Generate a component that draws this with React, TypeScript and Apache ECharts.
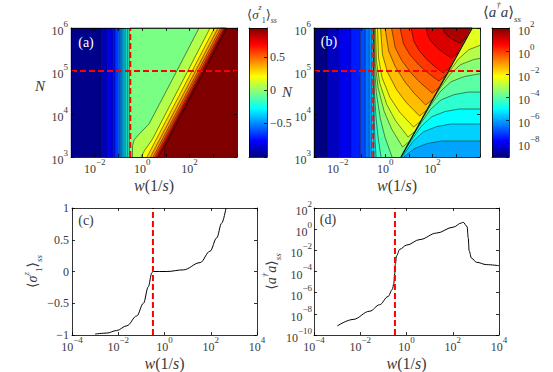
import React, { useEffect, useRef } from 'react';
import * as echarts from 'echarts';

// ---------------- data (log10 units) ----------------
const W_CRIT = -0.5; // log10 of the critical w (vertical red dashes)
const N_CUT = 5; // log10 N of the horizontal cut (red dashes)

// Panel (a): <sigma_1^z>_ss map
const aColorRange = [-1.02, 0.94];
const aVerticalBounds = [-3, -1.73, -1.47, -1.27, -1.14, -1.03, -0.93, -0.85, -0.76, -0.69, -0.62, -0.55, -0.5];
const aVerticalLevels = [-1, -0.92, -0.83, -0.75, -0.67, -0.58, -0.5, -0.42, -0.33, -0.25, -0.17, -0.08];
const aDiagLevels = [-0.05, 0.06, 0.2, 0.3, 0.4, 0.5, 0.6, 0.7, 0.8, 0.89, 0.94];
const aDiagContours = [
  [[2.4, 6], [1.46, 5], [0.29, 3.77], [-0.13, 3.53], [-0.34, 3.4], [-0.405, 3.26], [-0.41, 3]],
  [[2.865, 6], [0.42, 3.4], [0.1, 3.15], [-0.05, 3]],
  [[3.055, 6], [0.205, 3]],
  [[3.2, 6], [0.35, 3]],
  [[3.31, 6], [0.46, 3]],
  [[3.39, 6], [0.54, 3]],
  [[3.456, 6], [0.606, 3]],
  [[3.51, 6], [0.66, 3]],
  [[3.55, 6], [0.7, 3]],
  [[3.58, 6], [0.95, 3.23], [0.95, 3]],
];

// Panel (b): <a^dagger a>_ss map (log10 values)
const bColorRange = [-9.2, 2];
const bVerticalBounds = [-3, -2.45, -1.92, -1.43, -1.05, -0.84, -0.67, -0.58, -0.5];
const bVerticalLevels = [-9.14, -8.5, -8, -7.5, -7, -6.5, -6, -5.5];
const bRidge = [[0.67, 3], [3.67, 6]];
const bInnerBase = -5.5;
const bInnerLevels = [-5, -4.5, -4, -3.5, -3, -2.5, -2, -1.5, -1, -0.5, 0, 0.5, 1, 1.5];
const bInnerContours = [
  [[-0.5, 6], [-0.5, 4.5], [-0.49, 3.6], [-0.47, 3]],
  [[-0.5, 6], [-0.486, 4.5], [-0.46, 3.9], [-0.431, 3.45], [-0.384, 3]],
  [[-0.489, 6], [-0.481, 5.1], [-0.45, 4.5], [-0.381, 3.9], [-0.295, 3.45], [-0.173, 3]],
  [[-0.468, 6], [-0.447, 5.1], [-0.373, 4.5], [-0.206, 3.9], [-0.002, 3.45], [0.291, 3]],
  [[-0.447, 6], [-0.415, 5.17], [-0.299, 4.616], [-0.042, 4.063], [0.278, 3.646], [0.734, 3.232], [1.042, 3.372]],
  [[-0.405, 6], [-0.368, 5.239], [-0.234, 4.732], [0.065, 4.225], [0.437, 3.845], [0.966, 3.465], [1.274, 3.605]],
  [[-0.321, 6], [-0.28, 5.309], [-0.131, 4.849], [0.2, 4.388], [0.612, 4.043], [1.198, 3.698], [1.506, 3.837]],
  [[-0.194, 6], [-0.113, 5.386], [0.097, 4.977], [0.481, 4.567], [0.903, 4.26], [1.452, 3.953], [1.764, 4.093]],
  [[-0.004, 6], [0.15, 5.463], [0.425, 5.105], [0.836, 4.746], [1.232, 4.478], [1.709, 4.209], [2.017, 4.349]],
  [[0.27, 6], [0.425, 5.546], [0.7, 5.244], [1.112, 4.942], [1.51, 4.715], [1.987, 4.488], [2.295, 4.628]],
  [[0.629, 6], [0.777, 5.63], [1.038, 5.384], [1.43, 5.137], [1.81, 4.952], [2.266, 4.767], [2.574, 4.907]],
  [[1.093, 6], [1.215, 5.686], [1.433, 5.477], [1.76, 5.267], [2.076, 5.11], [2.452, 4.953], [2.76, 5.093]],
  [[1.726, 6], [1.823, 5.791], [1.996, 5.651], [2.253, 5.512], [2.502, 5.407], [2.802, 5.302], [3.108, 5.442]],
  [[2.443, 6], [2.506, 5.895], [2.62, 5.826], [2.789, 5.756], [2.954, 5.703], [3.148, 5.651], [3.456, 5.791]],
];
const bOuterBase = -6;
const bOuterLevels = [-5.5, -5, -4.5, -4, -3.5, -3, -2.5];
const bOuterContours = [
  [[0.79, 3], [1.222, 3.192], [1.772, 3.312], [2.372, 3.372], [4, 3.372]],
  [[0.71, 3], [1.177, 3.367], [1.617, 3.587], [2.167, 3.707], [2.767, 3.767], [4, 3.767]],
  [[0.786, 3.116], [1.076, 3.366], [1.526, 3.716], [1.966, 3.936], [2.516, 4.056], [3.116, 4.116], [4, 4.116]],
  [[1.18, 3.51], [1.47, 3.76], [1.92, 4.11], [2.36, 4.33], [2.91, 4.45], [3.51, 4.51], [4, 4.51]],
  [[1.6, 3.93], [1.89, 4.18], [2.34, 4.53], [2.78, 4.75], [3.33, 4.87], [3.93, 4.93], [4, 4.93]],
  [[1.996, 4.326], [2.286, 4.576], [2.736, 4.926], [3.176, 5.146], [3.726, 5.266], [4, 5.293]],
  [[2.344, 4.674], [2.634, 4.924], [3.084, 5.274], [3.524, 5.494], [4, 5.598]],
];

// Panel (c): <sigma_1^z>_ss vs log10 w at N = 1e5
const cLogW = [-3.0, -2.5, -2.07, -1.63, -1.2, -0.91, -0.7, -0.55, -0.51, 0.1, 0.82, 1.54, 1.97, 2.26, 2.47, 2.66];
const cSigma = [-0.985, -0.97, -0.93, -0.855, -0.7, -0.5, -0.24, -0.025, 0.0, 0.0, 0.026, 0.14, 0.32, 0.53, 0.76, 1.0];

// Panel (d): log10 <a^dagger a>_ss vs log10 w at N = 1e5
const dLogW = [-2.99, -2.31, -1.59, -1.16, -0.8, -0.61, -0.55, -0.51, -0.48, -0.43, -0.29, 0.0, 0.58, 1.3, 2.02, 2.38, 2.45, 2.62, 2.67, 2.71, 2.81, 3.03, 3.46, 4.0];
const dLogN = [-9.14, -8.53, -7.75, -7.14, -6.37, -5.69, -5.14, -4.2, -3.29, -2.52, -1.9, -1.51, -0.98, -0.37, 0.19, 0.59, 0.65, 0.25, -0.83, -2.06, -2.74, -3.13, -3.35, -3.45];

// ---------------- styling helpers ----------------
const FONT = "'Liberation Serif', 'DejaVu Serif', serif";
const INK = '#3a3a3a';

function jet(t: number): string {
  const c = (v: number) => Math.max(0, Math.min(1, v));
  const tt = c(t);
  const r = c(Math.min(4 * tt - 1.5, -4 * tt + 4.5));
  const g = c(Math.min(4 * tt - 0.5, -4 * tt + 3.5));
  const b = c(Math.min(4 * tt + 0.5, -4 * tt + 2.5));
  return `rgb(${Math.round(r * 255)},${Math.round(g * 255)},${Math.round(b * 255)})`;
}
const JET_STOPS = [
  { offset: 0, color: '#000080' },
  { offset: 0.125, color: '#0000ff' },
  { offset: 0.375, color: '#00ffff' },
  { offset: 0.625, color: '#ffff00' },
  { offset: 0.875, color: '#ff0000' },
  { offset: 1, color: '#800000' },
];

const powRich = {
  b: { fontFamily: FONT, fontSize: 12, color: INK, lineHeight: 18, verticalAlign: 'bottom' },
  s: { fontFamily: FONT, fontSize: 9, color: INK, verticalAlign: 'top' },
};
const minus = (v: number) => (v < 0 ? '\u2212' + Math.abs(v) : String(v));
const powLabel = (only?: (v: number) => boolean) => (v: number) => {
  if (Math.abs(v - Math.round(v)) > 1e-6) return '';
  const k = Math.round(v);
  if (only && !only(k)) return '';
  return `{b|10}{s|${minus(k)}}`;
};

const mathRich = (size: number) => ({
  r: { fontFamily: FONT, fontSize: size, color: INK, lineHeight: size + 8, verticalAlign: 'middle' },
  i: { fontFamily: FONT, fontSize: size, fontStyle: 'italic', color: INK, verticalAlign: 'middle' },
  sup: { fontFamily: FONT, fontSize: Math.round(size * 0.62), fontStyle: 'italic', color: INK, verticalAlign: 'top' },
  sub: { fontFamily: FONT, fontSize: Math.round(size * 0.62), color: INK, verticalAlign: 'bottom' },
  ss: { fontFamily: FONT, fontSize: Math.round(size * 0.62), fontStyle: 'italic', color: INK, verticalAlign: 'bottom' },
});
const X_NAME = '{i|w}{r|(1/}{i|s}{r|)}';
const SIGMA_NAME = '{r|\u27E8}{i|\u03C3}{sup|z}{sub|1}{r|\u27E9}{ss|ss}';
const N_NAME = '{r|\u27E8}{i|a}{sup|\u2020}{i|a}{r|\u27E9}{ss|ss}';

type Poly = { pts: number[][]; color: string };

function buildOption() {
  const aCol = (v: number) => jet((v - aColorRange[0]) / (aColorRange[1] - aColorRange[0]));
  const bCol = (v: number) => jet((v - bColorRange[0]) / (bColorRange[1] - bColorRange[0]));

  // ---- polygons of panel (a)
  const aPolys: Poly[] = [];
  aVerticalLevels.forEach((lv, i) => {
    const x0 = aVerticalBounds[i];
    const x1 = aVerticalBounds[i + 1];
    aPolys.push({ pts: [[x0, 3], [x1, 3], [x1, 6], [x0, 6]], color: aCol(lv) });
  });
  aPolys.push({ pts: [[W_CRIT, 3], [4, 3], [4, 6], [W_CRIT, 6]], color: aCol(aDiagLevels[aDiagLevels.length - 1]) });
  for (let k = aDiagContours.length - 1; k >= 0; k--) {
    aPolys.push({ pts: [[W_CRIT, 6], ...aDiagContours[k], [W_CRIT, 3]], color: aCol(aDiagLevels[k]) });
  }
  const aLines: number[][][] = [
    ...aVerticalBounds.slice(1, -1).map((x) => [[x, 3], [x, 6]]),
    ...aDiagContours,
  ];

  // ---- polygons of panel (b)
  const bPolys: Poly[] = [];
  bVerticalLevels.forEach((lv, i) => {
    const x0 = bVerticalBounds[i];
    const x1 = bVerticalBounds[i + 1];
    bPolys.push({ pts: [[x0, 3], [x1, 3], [x1, 6], [x0, 6]], color: bCol(lv) });
  });
  bPolys.push({ pts: [[W_CRIT, 3], bRidge[0], bRidge[1], [W_CRIT, 6]], color: bCol(bInnerBase) });
  bInnerContours.forEach((c, i) => {
    const pts = [...c];
    const last = c[c.length - 1];
    if (last[1] <= 3.0001) pts.push(bRidge[0]);
    pts.push(bRidge[1]);
    bPolys.push({ pts, color: bCol(bInnerLevels[i]) });
  });
  bPolys.push({ pts: [bRidge[0], [4, 3], [4, 6], bRidge[1]], color: bCol(bOuterBase) });
  bOuterContours.forEach((c, i) => {
    const pts = [...c, [4, 6], bRidge[1]];
    if (c[0][1] <= 3.0001) pts.push(bRidge[0]);
    bPolys.push({ pts, color: bCol(bOuterLevels[i]) });
  });
  const bLines: number[][][] = [
    ...bVerticalBounds.slice(1, -1).map((x) => [[x, 3], [x, 6]]),
    ...bInnerContours,
    ...bOuterContours,
  ];

  const grids = [
    { left: 71, top: 28, width: 166, height: 129 },
    { left: 249, top: 28, width: 18, height: 129 },
    { left: 314, top: 28, width: 166, height: 129 },
    { left: 492, top: 28, width: 17, height: 129 },
    { left: 72, top: 208, width: 185, height: 130 },
    { left: 314, top: 208, width: 185, height: 130 },
  ];

  const xAxes: any[] = [];
  const yAxes: any[] = [];
  const mkAxis = (gridIndex: number, s: any, position: string, withLabels: boolean, ticks: boolean) => ({
    type: 'value',
    gridIndex,
    position,
    min: s.min,
    max: s.max,
    ...(s.interval !== undefined ? { interval: s.interval } : {}),
    ...(s.splitNumber !== undefined ? { splitNumber: s.splitNumber } : {}),
    z: 10,
    axisLine: { show: true, onZero: false, lineStyle: { color: '#000', width: 0.8 } },
    axisTick: { show: ticks, inside: true, length: 3, lineStyle: { color: '#000', width: 0.8 } },
    splitLine: { show: false },
    axisLabel: withLabels
      ? {
          show: true,
          margin: s.margin ?? 3,
          formatter: s.formatter,
          rich: s.rich,
          fontFamily: FONT,
          fontSize: 12,
          color: INK,
          ...(s.labelAlign ? { align: s.labelAlign } : {}),
        }
      : { show: false },
    ...(withLabels && s.name
      ? {
          name: s.name,
          nameLocation: 'middle',
          nameGap: s.nameGap,
          nameTextStyle: { rich: s.nameRich, fontFamily: FONT, color: INK },
        }
      : {}),
  });
  const addGrid = (g: number, xs: any, ys: any, opts: any = {}) => {
    xAxes.push(mkAxis(g, xs, 'bottom', !opts.noXLabels, opts.xTicks !== false));
    xAxes.push(mkAxis(g, xs, 'top', false, opts.xTicks !== false));
    yAxes.push(mkAxis(g, ys, 'left', !opts.yLabelsRight, opts.yLeftTicks !== false));
    yAxes.push(mkAxis(g, ys, 'right', !!opts.yLabelsRight, true));
  };

  const mapX = { min: -3, max: 4, interval: 1, formatter: powLabel((k) => k === -2 || k === 0 || k === 2), rich: powRich, margin: 0, name: X_NAME, nameGap: 16, nameRich: mathRich(16) };
  const mapY = { min: 3, max: 6, interval: 1, formatter: powLabel(), rich: powRich, margin: 3 };
  addGrid(0, mapX, mapY);
  addGrid(
    1,
    { min: 0, max: 1 },
    { min: aColorRange[0], max: aColorRange[1], splitNumber: 4, margin: 3, labelAlign: 'left', formatter: (v: number) => ([-0.5, 0, 0.5].some((q) => Math.abs(q - v) < 1e-6) ? minus(v) : '') },
    { noXLabels: true, xTicks: false, yLabelsRight: true, yLeftTicks: false }
  );
  addGrid(2, mapX, mapY);
  addGrid(
    3,
    { min: 0, max: 1 },
    { min: bColorRange[0], max: bColorRange[1], splitNumber: 5, margin: 9, labelAlign: 'left', formatter: powLabel(), rich: powRich },
    { noXLabels: true, xTicks: false, yLabelsRight: true, yLeftTicks: false }
  );
  const lineX = { min: -4, max: 4, interval: 2, formatter: powLabel(), rich: powRich, margin: 0, name: X_NAME, nameGap: 16, nameRich: mathRich(16) };
  addGrid(4, lineX, { min: -1, max: 1, interval: 0.5, margin: 3, formatter: (v: number) => (v === 0 ? '0' : minus(v)), name: SIGMA_NAME, nameGap: 15, nameRich: mathRich(14) });
  addGrid(5, lineX, { min: -10, max: 2, interval: 2, margin: 2, formatter: powLabel(), rich: powRich, name: N_NAME, nameGap: 18, nameRich: mathRich(14) });

  const polySeries = (polys: Poly[], g: number) => ({
    type: 'custom',
    xAxisIndex: 2 * g,
    yAxisIndex: 2 * g,
    z: 1,
    silent: true,
    data: polys.map((p, i) => [p.pts[0][0], p.pts[0][1], i]),
    encode: { x: 0, y: 1 },
    renderItem: (params: any, api: any) => {
      const p = polys[params.dataIndex];
      return {
        type: 'polygon',
        shape: { points: p.pts.map((q) => api.coord(q)) },
        style: { fill: p.color, stroke: p.color, lineWidth: 0.4 },
      };
    },
  });
  const lineSet = (lines: number[][][], g: number, stroke: string, width: number, dash?: number[], z = 3) => ({
    type: 'custom',
    xAxisIndex: 2 * g,
    yAxisIndex: 2 * g,
    z,
    silent: true,
    data: lines.map((l, i) => [l[0][0], l[0][1], i]),
    encode: { x: 0, y: 1 },
    renderItem: (params: any, api: any) => ({
      type: 'polyline',
      shape: { points: lines[params.dataIndex].map((q) => api.coord(q)) },
      style: { stroke, lineWidth: width, fill: 'none', ...(dash ? { lineDash: dash } : {}) },
    }),
  });
  const colorbar = (g: number, range: number[]) => ({
    type: 'custom',
    xAxisIndex: 2 * g,
    yAxisIndex: 2 * g,
    z: 1,
    silent: true,
    data: [[0, range[0], 1, range[1]]],
    encode: { x: [0, 2], y: [1, 3] },
    renderItem: (params: any, api: any) => {
      const p0 = api.coord([api.value(0), api.value(1)]);
      const p1 = api.coord([api.value(2), api.value(3)]);
      return {
        type: 'rect',
        shape: { x: p0[0], y: p1[1], width: p1[0] - p0[0], height: p0[1] - p1[1] },
        style: { fill: new echarts.graphic.LinearGradient(0, 1, 0, 0, JET_STOPS) },
      };
    },
  });

  const RED_DASH = [6, 3];
  const mapRed = [
    [[W_CRIT, 3], [W_CRIT, 6]],
    [[-3, N_CUT], [4, N_CUT]],
  ];

  const series: any[] = [
    polySeries(aPolys, 0),
    lineSet(aLines, 0, 'rgba(0,0,0,0.8)', 0.6),
    lineSet(mapRed, 0, '#ff0000', 2, RED_DASH, 4),
    colorbar(1, aColorRange),
    polySeries(bPolys, 2),
    lineSet(bLines, 2, 'rgba(0,0,0,0.8)', 0.6),
    lineSet([bRidge], 2, '#111', 1.3),
    lineSet(mapRed, 2, '#ff0000', 2, RED_DASH, 4),
    colorbar(3, bColorRange),
    {
      type: 'line',
      xAxisIndex: 8,
      yAxisIndex: 8,
      data: cLogW.map((w, i) => [w, cSigma[i]]),
      showSymbol: false,
      symbol: 'none',
      smooth: 0.35,
      smoothMonotone: 'x',
      lineStyle: { color: '#000', width: 1 },
      z: 3,
    },
    lineSet([[[W_CRIT, -1], [W_CRIT, 1]]], 4, '#ff0000', 2, RED_DASH, 4),
    {
      type: 'line',
      xAxisIndex: 10,
      yAxisIndex: 10,
      data: dLogW.map((w, i) => [w, dLogN[i]]),
      showSymbol: false,
      symbol: 'none',
      smooth: 0.35,
      smoothMonotone: 'x',
      lineStyle: { color: '#000', width: 1 },
      z: 3,
    },
    lineSet([[[W_CRIT, -10], [W_CRIT, 2]]], 5, '#ff0000', 2, RED_DASH, 4),
  ];

  const txt = (x: number, y: number, text: string, fill: string, size: number, rich?: any, italic = false) => ({
    type: 'text',
    x,
    y,
    z: 20,
    silent: true,
    style: {
      text,
      fill,
      font: `${italic ? 'italic ' : ''}${size}px ${FONT}`,
      align: 'center',
      verticalAlign: 'middle',
      textAlign: 'center',
      textVerticalAlign: 'middle',
      ...(rich ? { rich } : {}),
    },
  });

  const graphic = [
    txt(86, 42, '(a)', '#ffffff', 14),
    txt(329, 41, '(b)', '#ffffff', 14),
    txt(86, 220, '(c)', INK, 14),
    txt(328, 219, '(d)', INK, 14),
    txt(40, 86, 'N', INK, 15, undefined, true),
    txt(287, 92, 'N', INK, 15, undefined, true),
    txt(262, 14, SIGMA_NAME, INK, 13, mathRich(13)),
    txt(502, 12, N_NAME, INK, 15, mathRich(15)),
  ];

  return {
    animation: false,
    backgroundColor: '#ffffff',
    grid: grids,
    xAxis: xAxes,
    yAxis: yAxes,
    series,
    graphic,
  };
}

export default function App() {
  const ref = useRef<HTMLDivElement>(null);
  useEffect(() => {
    if (!ref.current) return;
    const chart = echarts.init(ref.current, undefined, { renderer: 'svg' });
    chart.setOption(buildOption() as any);
    return () => chart.dispose();
  }, []);
  return (
    <div
      ref={ref}
      style={{ position: 'fixed', left: 0, top: 0, width: 553, height: 372, background: '#fff' }}
    />
  );
}
